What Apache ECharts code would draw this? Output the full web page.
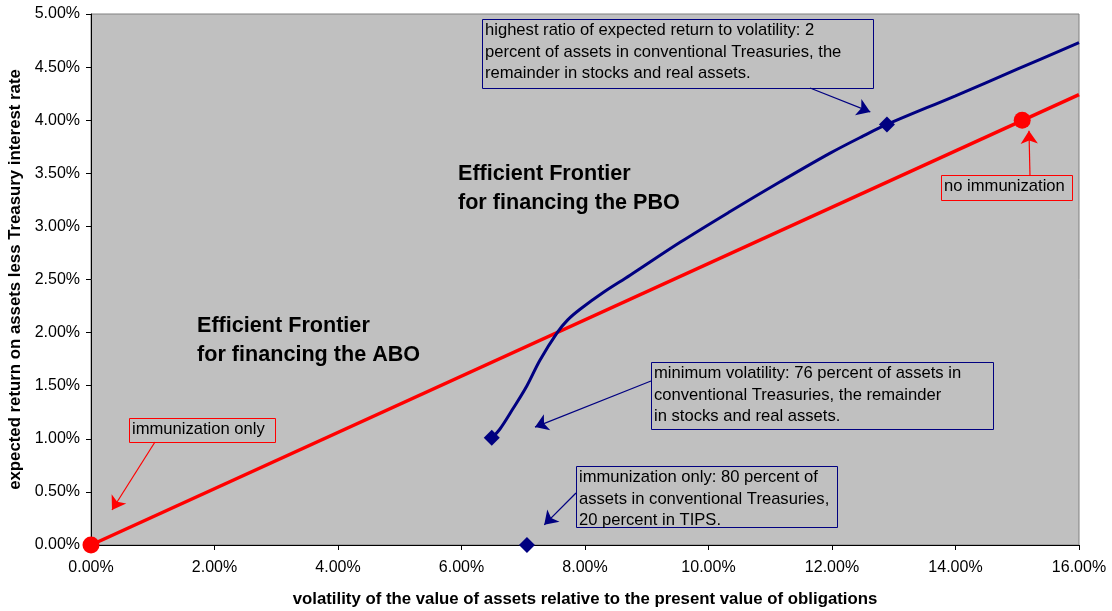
<!DOCTYPE html>
<html><head><meta charset="utf-8">
<script src="https://cdn.jsdelivr.net/npm/echarts@6/dist/echarts.min.js"></script>
<style>html,body{margin:0;padding:0;background:#fff}#c{width:1112px;height:611px}</style>
</head><body><div id="c"></div>
<script>
// ---- data (percent units) ----
var xTicks = [0, 2, 4, 6, 8, 10, 12, 14, 16];
var yTicks = [0, 0.5, 1, 1.5, 2, 2.5, 3, 3.5, 4, 4.5, 5];
var aboLine = [[0, 0], [16, 4.24]];
var aboPoints = [[0, 0], [15.08, 4.0]];
var pboCurve = [[6.49, 1.01], [6.62, 1.09], [6.83, 1.28], [7.06, 1.50], [7.27, 1.74], [7.55, 2.00],
  [7.72, 2.12], [7.92, 2.22], [8.3, 2.38], [8.73, 2.54], [9.54, 2.85], [10.35, 3.14], [11.16, 3.42],
  [11.97, 3.69], [12.5, 3.85], [12.89, 3.96], [14, 4.23], [15, 4.48], [16, 4.73]];
var pboPoints = [[6.49, 1.01], [12.89, 3.96], [7.06, 0]];

var annoTexts = [
  'immunization only',
  'highest ratio of expected return to volatility: 2\npercent of assets in conventional Treasuries, the\nremainder in stocks and real assets.',
  'minimum volatility: 76 percent of assets in\nconventional Treasuries, the remainder\nin stocks and real assets.',
  'immunization only: 80 percent of\nassets in conventional Treasuries,\n20 percent in TIPS.',
  'no immunization'
];
// layout of annotations (data coordinates for box corners and arrows)
var annoLayout = [
  {box: [0.615, 1.196, 2.98, 0.97], color: '#ff0000', arrow: [[1.036, 0.97], [0.34, 0.33]]},
  {box: [6.332, 4.953, 12.664, 4.303], color: '#000080', arrow: [[11.644, 4.303], [12.62, 4.078]]},
  {box: [9.069, 1.723, 14.607, 1.092], color: '#000080', arrow: [[9.069, 1.544], [7.19, 1.11]]},
  {box: [7.854, 0.744, 12.081, 0.169], color: '#000080', arrow: [[7.854, 0.49], [7.34, 0.19]]},
  {box: [13.765, 3.484, 15.887, 3.249], color: '#ff0000', arrow: [[15.206, 3.484], [15.19, 3.9]]}
];
var titleTexts = ['Efficient Frontier\nfor financing the PBO', 'Efficient Frontier\nfor financing the ABO'];
var titlePos = [[5.943, 3.63], [1.717, 2.20]];

var FONT = 'Liberation Sans, Arial, sans-serif';
var chart = echarts.init(document.getElementById('c'), null, {renderer: 'canvas'});

function arrowLines(idxs) {
  return idxs.map(function (i) {
    var a = annoLayout[i];
    return [{coord: a.arrow[0]}, {coord: a.arrow[1]}];
  });
}
var redIdx = [0, 4], blueIdx = [1, 2, 3];

var option = {
  animation: false,
  backgroundColor: '#ffffff',
  grid: {left: 91, right: 33, top: 14, bottom: 66, containLabel: false, outerBoundsMode: 'none',
    show: true, backgroundColor: '#c0c0c0', borderColor: '#808080', borderWidth: 1},
  xAxis: {
    type: 'value', min: 0, max: 16, interval: 2,
    name: 'volatility of the value of assets relative to the present value of obligations',
    nameLocation: 'middle', nameGap: 46,
    nameTextStyle: {fontFamily: FONT, fontWeight: 'bold', fontSize: 16.8, color: '#000'},
    axisLine: {show: true, lineStyle: {color: '#000', width: 1}},
    axisTick: {show: true, inside: false, length: 5, lineStyle: {color: '#000'}},
    axisLabel: {margin: 15, fontFamily: FONT, fontSize: 16, color: '#000', formatter: function (v) { return v.toFixed(2) + '%'; }},
    splitLine: {show: false}
  },
  yAxis: {
    type: 'value', min: 0, max: 5, interval: 0.5,
    name: 'expected return on assets less Treasury interest rate',
    nameLocation: 'middle', nameGap: 65, nameRotate: 90,
    nameTextStyle: {fontFamily: FONT, fontWeight: 'bold', fontSize: 16.8, color: '#000'},
    axisLine: {show: true, lineStyle: {color: '#000', width: 1}},
    axisTick: {show: true, inside: false, length: 5, lineStyle: {color: '#000'}},
    axisLabel: {margin: 11, fontFamily: FONT, fontSize: 16, color: '#000', formatter: function (v) { return v.toFixed(2) + '%'; }},
    splitLine: {show: false}
  },
  series: [
    {type: 'line', data: aboLine, showSymbol: false, symbol: 'none', lineStyle: {color: '#ff0000', width: 3.5}, silent: true, z: 3},
    {type: 'line', data: pboCurve, smooth: 0.35, showSymbol: false, symbol: 'none', lineStyle: {color: '#000080', width: 3}, silent: true, z: 4},
    {type: 'scatter', data: aboPoints, symbol: 'circle', symbolSize: 17, itemStyle: {color: '#ff0000', opacity: 1}, silent: true, z: 5},
    {type: 'scatter', data: pboPoints, symbol: 'diamond', symbolSize: 16, itemStyle: {color: '#000080', opacity: 1}, silent: true, z: 5},
    {type: 'scatter', data: [], silent: true, z: 6,
      markLine: {silent: true, symbol: ['none', 'arrow'], symbolSize: 13, label: {show: false},
        lineStyle: {color: '#ff0000', width: 1.2, type: 'solid'}, data: arrowLines(redIdx), animation: false}},
    {type: 'scatter', data: [], silent: true, z: 6,
      markLine: {silent: true, symbol: ['none', 'arrow'], symbolSize: 13, label: {show: false},
        lineStyle: {color: '#000080', width: 1.2, type: 'solid'}, data: arrowLines(blueIdx), animation: false}}
  ]
};
chart.setOption(option);

function px(p) { return chart.convertToPixel({gridIndex: 0}, p); }
var graphics = [];
annoLayout.forEach(function (a, i) {
  var p1 = px([a.box[0], a.box[1]]), p2 = px([a.box[2], a.box[3]]);
  graphics.push({type: 'rect', silent: true, z: 100,
    shape: {x: Math.round(p1[0]) + 0.5, y: Math.round(p1[1]) + 0.5, width: Math.round(p2[0] - p1[0]), height: Math.round(p2[1] - p1[1])},
    style: {fill: null, stroke: a.color, lineWidth: 1}});
  graphics.push({type: 'text', silent: true, z: 101, x: p1[0] + 3, y: p1[1] + 1,
    style: {text: annoTexts[i], font: '16.6px ' + FONT, fill: '#000', lineHeight: 21.5, verticalAlign: 'top'}});
});
titleTexts.forEach(function (t, i) {
  var p = px(titlePos[i]);
  graphics.push({type: 'text', silent: true, z: 101, x: p[0], y: p[1],
    style: {text: t, font: 'bold 21.6px ' + FONT, fill: '#000', lineHeight: 29, verticalAlign: 'top'}});
});
chart.setOption({graphic: graphics});
</script></body></html>
